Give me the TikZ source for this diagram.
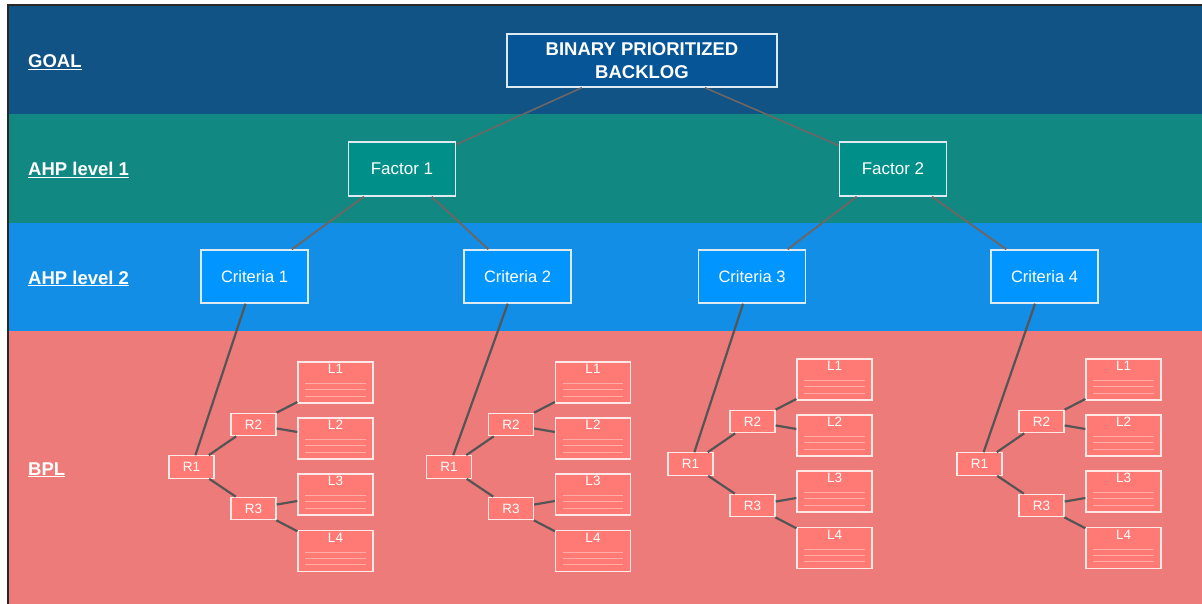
\documentclass[tikz,border=0pt]{standalone}
\usepackage{fontspec}
\setmainfont{Liberation Sans}
\definecolor{goalband}{RGB}{17,83,133}
\definecolor{goalfill}{RGB}{6,85,150}
\definecolor{ahpone}{RGB}{18,136,131}
\definecolor{factorfill}{RGB}{0,143,137}
\definecolor{ahptwo}{RGB}{18,142,230}
\definecolor{critfill}{RGB}{0,149,255}
\definecolor{bplband}{RGB}{236,123,121}
\definecolor{bplfill}{RGB}{255,122,117}
\definecolor{bplline}{RGB}{255,172,166}
\definecolor{boxborder}{RGB}{222,234,242}
\definecolor{bplborder}{RGB}{255,232,230}
\definecolor{edgeup}{RGB}{108,102,100}
\definecolor{edgelow}{RGB}{85,85,85}
\definecolor{frameline}{RGB}{40,40,40}
\tikzset{
  bandlabel/.style={anchor=base west, text=white, inner sep=0,
    font=\bfseries\fontsize{18.5}{22}\selectfont},
  goalbox/.style={draw=boxborder, fill=goalfill, line width=1.4,
    minimum width=270, minimum height=53, inner sep=0, text=white,
    align=center, font=\bfseries\fontsize{18.5}{23}\selectfont},
  factorbox/.style={draw=boxborder, fill=factorfill, line width=1.4,
    minimum width=107, minimum height=54, inner sep=0, text=white,
    font=\fontsize{17}{20}\selectfont},
  critbox/.style={draw=boxborder, fill=critfill, line width=1.4,
    minimum width=107, minimum height=53, inner sep=0, text=white,
    font=\fontsize{16.5}{20}\selectfont},
  rbox/.style={draw=bplborder, fill=bplfill, line width=1.2,
    minimum width=45, minimum height=22.5, inner sep=0, text=white,
    font=\fontsize{13.5}{15}\selectfont},
  lbox/.style={draw=bplborder, fill=bplfill, line width=1.2,
    minimum width=75, minimum height=41, inner sep=0},
  ltext/.style={anchor=base, inner sep=0, text=white,
    font=\fontsize{13.5}{15}\selectfont},
  lline/.style={draw=bplline, line width=0.9},
  edgegoal/.style={draw=edgeup, line width=1.6},
  edgemid/.style={draw=edgeup, line width=1.9},
  edgetree/.style={draw=edgelow, line width=2.2},
}
\newcommand{\bpltree}[3]{%
  \begin{scope}[shift={(#2,#3)}]
    \node[rbox] (#1r1) at (0,0) {R1};
    \node[rbox] (#1r2) at (62,-42.5) {R2};
    \node[rbox] (#1r3) at (62,41.5) {R3};
    \foreach \i/\dy in {1/-84.5,2/-28.5,3/27.5,4/84}{
      \node[lbox] (#1l\i) at (144,\dy) {};
      \node[ltext] (#1lt\i) at ([yshift=-12.5]#1l\i.north) {L\i};
      \foreach \ly in {22.5,28.5,35}{
        \draw[lline] ([xshift=8,yshift=-\ly]#1l\i.north west) --
                     ([xshift=-8,yshift=-\ly]#1l\i.north east);
      }
    }
  \end{scope}
  \draw[edgetree] (#1r1) -- (#1r2);
  \draw[edgetree] (#1r1) -- (#1r3);
  \draw[edgetree] (#1r2) -- (#1l1);
  \draw[edgetree] (#1r2) -- (#1l2);
  \draw[edgetree] (#1r3) -- (#1l3);
  \draw[edgetree] (#1r3) -- (#1l4);
}
\begin{document}
\begin{tikzpicture}[x=1pt,y=-1pt]
\useasboundingbox (0,0) rectangle (1202,604);
\fill[white] (0,0) rectangle (1202,604);
% bands
\fill[goalband] (8,5) rectangle (1202,114);
\fill[ahpone] (8,114) rectangle (1202,223);
\fill[ahptwo] (8,223) rectangle (1202,331);
\fill[bplband] (8,331) rectangle (1202,604);
\draw[frameline, line width=1.3] (8,604) -- (8,5) -- (1202,5);
% band labels
\node[bandlabel] (lgoal) at (28,68) {\underline{GOAL}};
\node[bandlabel] (lahp1) at (28,176) {\underline{AHP level 1}};
\node[bandlabel] (lahp2) at (28,284) {\underline{AHP level 2}};
\node[bandlabel] (lbpl) at (28,475) {\underline{BPL}};
% hierarchy
\node[goalbox] (goal) at (642,60.5) {BINARY PRIORITIZED\\BACKLOG};
\node[factorbox] (f1) at (402,169) {Factor 1};
\node[factorbox] (f2) at (893,169) {Factor 2};
\node[critbox] (c1) at (254.5,276.5) {Criteria 1};
\node[critbox] (c2) at (517.5,276.5) {Criteria 2};
\node[critbox] (c3) at (752,276.5) {Criteria 3};
\node[critbox] (c4) at (1044.5,276.5) {Criteria 4};
\draw[edgegoal] (goal) -- (f1);
\draw[edgegoal] (goal) -- (f2);
\draw[edgemid] (f1) -- (c1);
\draw[edgemid] (f1) -- (c2);
\draw[edgemid] (f2) -- (c3);
\draw[edgemid] (f2) -- (c4);
% trees
\bpltree{ta}{191.5}{467}
\bpltree{tb}{449}{467}
\bpltree{tc}{690.5}{464}
\bpltree{td}{979.5}{464}
\draw[edgetree] (c1) -- (tar1);
\draw[edgetree] (c2) -- (tbr1);
\draw[edgetree] (c3) -- (tcr1);
\draw[edgetree] (c4) -- (tdr1);
\end{tikzpicture}
\end{document}
